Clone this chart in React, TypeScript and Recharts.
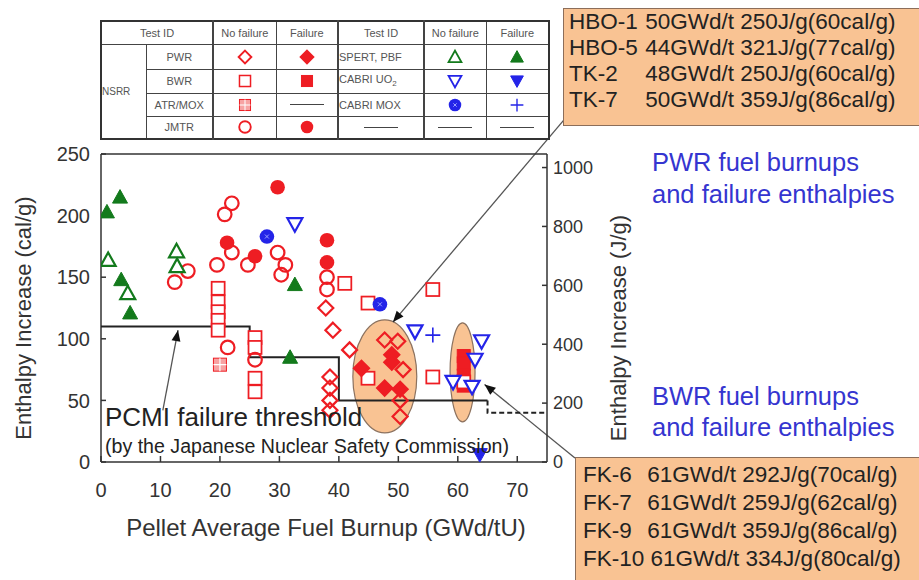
import React from 'react';
import { ScatterChart, Scatter, XAxis, YAxis, ReferenceArea, ReferenceLine } from 'recharts';

const W = 919;
const H = 580;
const PLOT = { left: 101, right: 547, top: 154, bottom: 462 };
const FONT = '"Liberation Sans", Arial, sans-serif';
const RED = '#ee1d23';
const PINK = '#f7a3a3';
const GREEN = '#137a1c';
const BLUE = '#2424e8';
const NOTE_BLUE = '#3535d0';
const INK = '#333';
const PEACH = '#f9c393';

// pellet average burnup (GWd/tU), enthalpy increase (cal/g)
const nsrrPwrNoFail = [[37.8, 125], [39, 107], [41.8, 91], [38.5, 69], [38.5, 60], [38.5, 50], [38.5, 42], [47.7, 99], [49.9, 98], [50.8, 75], [50.3, 50], [50.3, 37]];
const nsrrPwrFail = [[43.8, 76], [48.9, 87], [48.9, 81], [47.7, 60], [50.3, 59]];
const nsrrBwrNoFail = [[19.7, 141], [19.7, 130], [19.7, 122], [19.7, 115], [19.7, 107], [25.9, 101], [25.9, 93], [25.9, 68], [25.9, 57], [41, 145], [44.9, 129], [55.8, 140], [44.9, 68], [55.8, 69]];
const nsrrBwrFail = [[61, 86], [61, 80], [61, 70], [61, 62]];
const nsrrBwrNoFailFk = [[61, 65]];
const nsrrAtrNoFail = [[20, 79]];
const nsrrJmtrNoFail = [[12.4, 146], [14.6, 155], [19.5, 160], [20.8, 201], [22, 210], [22, 170], [24.7, 160], [29.7, 170], [31, 160], [30.3, 152], [21.3, 93], [25.9, 83], [38, 150], [38, 140]];
const nsrrJmtrFail = [[29.7, 223], [21.2, 178], [25.9, 167], [38, 180], [38, 162]];
const spertNoFail = [[1.2, 164], [4.5, 137], [12.7, 171], [12.8, 159]];
const spertFail = [[1, 203], [3.2, 215], [3.4, 148], [4.9, 121], [32.6, 144], [31.8, 85]];
const cabriUo2NoFail = [[32.6, 193], [52.8, 106], [64, 98], [62.9, 83], [59.2, 65], [62.4, 61]];
const cabriUo2Fail = [[63.7, 6]];
const cabriMoxNoFail = [[27.9, 183], [46.9, 128]];
const cabriMoxFail = [[55.8, 103]];

// PCMI failure threshold (cal/g)
const pcmiThreshold = [[0, 110], [25, 110], [25, 85], [40, 85], [40, 50], [65, 50]];
const pcmiThresholdExt = [[65, 50], [65, 40], [75, 40]];

const burnupTicks = [0, 10, 20, 30, 40, 50, 60, 70];
const calTicks = [0, 50, 100, 150, 200, 250];
const jTicks = [0, 200, 400, 600, 800, 1000];
const CAL_TO_J = 4.184;

const hboTkLines = [
  ['HBO-1', '50GWd/t 250J/g(60cal/g)'],
  ['HBO-5', '44GWd/t 321J/g(77cal/g)'],
  ['TK-2', '48GWd/t 250J/g(60cal/g)'],
  ['TK-7', '50GWd/t 359J/g(86cal/g)'],
];
const fkLines = [
  ['FK-6', '61GWd/t 292J/g(70cal/g)'],
  ['FK-7', '61GWd/t 259J/g(62cal/g)'],
  ['FK-9', '61GWd/t 359J/g(86cal/g)'],
  ['FK-10', '61GWd/t 334J/g(80cal/g)'],
];

const pts = (a: number[][]) => a.map(([x, y]) => ({ x, y }));

type Kind = 'dOpen' | 'dFill' | 'sOpen' | 'sFill' | 'atr' | 'cOpen' | 'cFill' | 'tOpen' | 'tFill' | 'vOpen' | 'vFill' | 'mox' | 'plus';

function mark(kind: Kind, cx: number, cy: number, k = 1) {
  const sw = 2.2 * k;
  const d = 7.5 * k, s = 6.5 * k, r = 6.8 * k, t = 7.5 * k;
  switch (kind) {
    case 'dOpen':
    case 'dFill':
      return <polygon points={`${cx},${cy - d} ${cx + d},${cy} ${cx},${cy + d} ${cx - d},${cy}`} fill={kind === 'dFill' ? RED : 'none'} stroke={RED} strokeWidth={sw} />;
    case 'sOpen':
      return <rect x={cx - s} y={cy - s} width={2 * s} height={2 * s} fill="#fff" stroke={RED} strokeWidth={sw * 0.8} />;
    case 'sFill':
      return <rect x={cx - s} y={cy - s} width={2 * s} height={2 * s} fill={RED} stroke={RED} strokeWidth={1} />;
    case 'atr':
      return (
        <g>
          <rect x={cx - s} y={cy - s} width={2 * s} height={2 * s} fill={PINK} stroke={RED} strokeWidth={1} />
          <path d={`M${cx - s} ${cy}H${cx + s}M${cx} ${cy - s}V${cy + s}`} stroke="#fff" strokeWidth={1.2 * k} />
        </g>
      );
    case 'cOpen':
      return <circle cx={cx} cy={cy} r={r} fill="none" stroke={RED} strokeWidth={sw} />;
    case 'cFill':
      return <circle cx={cx} cy={cy} r={r + 0.5} fill={RED} />;
    case 'tOpen':
    case 'tFill':
      return <polygon points={`${cx},${cy - t} ${cx + t},${cy + t * 0.8} ${cx - t},${cy + t * 0.8}`} fill={kind === 'tFill' ? GREEN : '#fff'} stroke={GREEN} strokeWidth={kind === 'tFill' ? 1 : sw} />;
    case 'vOpen':
    case 'vFill':
      return <polygon points={`${cx},${cy + t} ${cx + t},${cy - t * 0.8} ${cx - t},${cy - t * 0.8}`} fill={kind === 'vFill' ? BLUE : '#fff'} stroke={BLUE} strokeWidth={kind === 'vFill' ? 1 : sw} />;
    case 'mox':
      return (
        <g>
          <circle cx={cx} cy={cy} r={r + 0.5} fill={BLUE} />
          <path d={`M${cx - 2 * k} ${cy - 2 * k}L${cx + 2 * k} ${cy + 2 * k}M${cx + 2 * k} ${cy - 2 * k}L${cx - 2 * k} ${cy + 2 * k}`} stroke="#9aa0ff" strokeWidth={1} />
        </g>
      );
    case 'plus':
      return <path d={`M${cx - t} ${cy}H${cx + t}M${cx} ${cy - t}V${cy + t}`} stroke={BLUE} strokeWidth={1.6 * k} />;
  }
  return <g />;
}

const shape = (kind: Kind) => (p: any) => mark(kind, p.cx, p.cy);

const ellipseShape = (p: any) => (
  <ellipse cx={p.x + p.width / 2} cy={p.y + p.height / 2} rx={Math.abs(p.width) / 2} ry={Math.abs(p.height) / 2} fill={PEACH} stroke="#8c725f" strokeWidth={1.2} />
);

const arrowShape = (p: any) => {
  const { x1, y1, x2, y2 } = p;
  const a = Math.atan2(y2 - y1, x2 - x1);
  const L = 11, w = 4.5;
  const bx = x2 - L * Math.cos(a), by = y2 - L * Math.sin(a);
  const poly = `${x2},${y2} ${bx - w * Math.sin(a)},${by + w * Math.cos(a)} ${bx + w * Math.sin(a)},${by - w * Math.cos(a)}`;
  return (
    <g>
      <line x1={x1} y1={y1} x2={x2} y2={y2} stroke="#555" strokeWidth={1.3} />
      <polygon points={poly} fill="#111" />
    </g>
  );
};

const tickStyle = { fontSize: 20, fill: INK, fontFamily: FONT };
const rightTickStyle = { fontSize: 18, fill: INK, fontFamily: FONT };

const AxisTitle = ({ px, py, text }: { px: number; py: number; text: string }) => (
  <text x={px} y={py} transform={`rotate(-90 ${px} ${py})`} textAnchor="middle" dominantBaseline="central" fontSize={22} fill={INK} fontFamily={FONT}>
    {text}
  </text>
);

const XTitle = () => (
  <text x={326} y={527} textAnchor="middle" dominantBaseline="central" fontSize={24} fill={INK} fontFamily={FONT}>
    Pellet Average Fuel Burnup (GWd/tU)
  </text>
);

const Icon = ({ kind }: { kind: Kind }) => (
  <svg width={18} height={18} style={{ display: 'block', margin: '0 auto' }}>
    {mark(kind, 9, 9, 0.85)}
  </svg>
);
const Dash = () => <div style={{ width: 34, height: 1, background: '#444', margin: '0 auto' }} />;

const cell: React.CSSProperties = { border: '1px solid #444', padding: 0, textAlign: 'center', color: '#555', fontSize: 11, whiteSpace: 'nowrap', overflow: 'hidden' };
const sep: React.CSSProperties = { borderLeft: '2px solid #444' };

const LegendTable = () => (
  <table style={{ position: 'absolute', left: 100, top: 20, width: 448, height: 118, borderCollapse: 'collapse', border: '2px solid #333', fontFamily: FONT, tableLayout: 'fixed' }}>
    <colgroup>
      <col style={{ width: 45 }} />
      <col style={{ width: 67 }} />
      <col style={{ width: 63 }} />
      <col style={{ width: 62 }} />
      <col style={{ width: 86 }} />
      <col style={{ width: 62 }} />
      <col style={{ width: 63 }} />
    </colgroup>
    <tbody>
      <tr style={{ height: 23 }}>
        <td colSpan={2} style={cell}>Test ID</td>
        <td style={{ ...cell, ...sep }}>No failure</td>
        <td style={cell}>Failure</td>
        <td style={{ ...cell, ...sep }}>Test ID</td>
        <td style={{ ...cell, ...sep }}>No failure</td>
        <td style={cell}>Failure</td>
      </tr>
      <tr style={{ height: 25 }}>
        <td rowSpan={4} style={{ ...cell, textAlign: 'left', fontSize: 10 }}>NSRR</td>
        <td style={cell}>PWR</td>
        <td style={{ ...cell, ...sep }}><Icon kind="dOpen" /></td>
        <td style={cell}><Icon kind="dFill" /></td>
        <td style={{ ...cell, ...sep, textAlign: 'left' }}>SPERT, PBF</td>
        <td style={{ ...cell, ...sep }}><Icon kind="tOpen" /></td>
        <td style={cell}><Icon kind="tFill" /></td>
      </tr>
      <tr style={{ height: 24 }}>
        <td style={cell}>BWR</td>
        <td style={{ ...cell, ...sep }}><Icon kind="sOpen" /></td>
        <td style={cell}><Icon kind="sFill" /></td>
        <td style={{ ...cell, ...sep, textAlign: 'left' }}>CABRI UO<sub style={{ fontSize: 8 }}>2</sub></td>
        <td style={{ ...cell, ...sep }}><Icon kind="vOpen" /></td>
        <td style={cell}><Icon kind="vFill" /></td>
      </tr>
      <tr style={{ height: 23 }}>
        <td style={cell}>ATR/MOX</td>
        <td style={{ ...cell, ...sep }}><Icon kind="atr" /></td>
        <td style={cell}><Dash /></td>
        <td style={{ ...cell, ...sep, textAlign: 'left' }}>CABRI MOX</td>
        <td style={{ ...cell, ...sep }}><Icon kind="mox" /></td>
        <td style={cell}><Icon kind="plus" /></td>
      </tr>
      <tr style={{ height: 23 }}>
        <td style={cell}>JMTR</td>
        <td style={{ ...cell, ...sep }}><Icon kind="cOpen" /></td>
        <td style={cell}><Icon kind="cFill" /></td>
        <td style={{ ...cell, ...sep }}><Dash /></td>
        <td style={{ ...cell, ...sep }}><Dash /></td>
        <td style={cell}><Dash /></td>
      </tr>
    </tbody>
  </table>
);

const Callout = ({ left, top, lines, lineH, idW, padTop, padLeft, size }: { left: number; top: number; lines: string[][]; lineH: number; idW: number; padTop: number; padLeft: number; size: number }) => (
  <div style={{ position: 'absolute', left, top, width: 400, height: lines.length * lineH + padTop + 14, background: PEACH, border: '1.5px solid #8c6e5a', boxSizing: 'border-box', padding: `${padTop}px 0 0 ${padLeft}px`, fontFamily: FONT, fontSize: size, color: '#222', lineHeight: `${lineH}px`, whiteSpace: 'nowrap' }}>
    {lines.map(([id, rest]) => (
      <div key={id}>
        <span style={{ display: 'inline-block', minWidth: idW }}>{id}</span> {rest}
      </div>
    ))}
  </div>
);

const Note = ({ left, top, size, color, children }: { left: number; top: number; size: number; color: string; children: React.ReactNode }) => (
  <div style={{ position: 'absolute', left, top, fontFamily: FONT, fontSize: size, color, lineHeight: 1, whiteSpace: 'nowrap' }}>{children}</div>
);

export default function App() {
  return (
    <div style={{ position: 'absolute', left: 0, top: 0, width: W, height: H, overflow: 'hidden', background: '#fff' }}>
      <ScatterChart
        width={W}
        height={H}
        margin={{ top: PLOT.top - 10, right: W - PLOT.right - 60, bottom: H - PLOT.bottom - 40, left: PLOT.left - 60 }}
      >
        <XAxis xAxisId="b" type="number" dataKey="x" domain={[0, 75]} ticks={burnupTicks} allowDataOverflow height={40}
          stroke={INK} strokeWidth={1.5} tickSize={-6} tickMargin={27} tick={tickStyle} label={<XTitle />} />
        <XAxis xAxisId="t" orientation="top" type="number" dataKey="x" domain={[0, 75]} ticks={burnupTicks.slice(1)} allowDataOverflow height={10}
          stroke={INK} strokeWidth={1.5} tickSize={-6} tick={false} />
        <YAxis yAxisId="l" type="number" dataKey="y" domain={[0, 250]} ticks={calTicks} allowDataOverflow width={60}
          stroke={INK} strokeWidth={1.5} tickSize={-5} tickMargin={16} tick={tickStyle}
          label={<AxisTitle px={23} py={318} text="Enthalpy Increase (cal/g)" />} />
        <YAxis yAxisId="r" orientation="right" type="number" domain={[0, 250 * CAL_TO_J]} ticks={jTicks} allowDataOverflow width={60}
          stroke={INK} strokeWidth={1.5} tickSize={-5} tickMargin={11} tick={rightTickStyle}
          label={<AxisTitle px={618} py={328} text="Enthalpy Increase (J/g)" />} />

        <ReferenceArea xAxisId="b" yAxisId="l" x1={42.35} x2={53.1} y1={23.6} y2={115.4} shape={ellipseShape} ifOverflow="visible" />
        <ReferenceArea xAxisId="b" yAxisId="l" x1={58.7} x2={62.9} y1={32.5} y2={113} shape={ellipseShape} ifOverflow="visible" />

        <Scatter xAxisId="b" yAxisId="l" data={pts(pcmiThreshold)} line={{ stroke: '#222', strokeWidth: 2 }} lineType="joint" shape={() => <g />} isAnimationActive={false} />
        <Scatter xAxisId="b" yAxisId="l" data={pts(pcmiThresholdExt)} line={{ stroke: '#222', strokeWidth: 2, strokeDasharray: '5 3' }} lineType="joint" shape={() => <g />} isAnimationActive={false} />

        <Scatter xAxisId="b" yAxisId="l" data={pts(nsrrBwrFail)} shape={shape('sFill')} isAnimationActive={false} />
        <Scatter xAxisId="b" yAxisId="l" data={pts(nsrrBwrNoFail)} shape={shape('sOpen')} isAnimationActive={false} />
        <Scatter xAxisId="b" yAxisId="l" data={pts(nsrrBwrNoFailFk)} shape={shape('sOpen')} isAnimationActive={false} />
        <Scatter xAxisId="b" yAxisId="l" data={pts(nsrrAtrNoFail)} shape={shape('atr')} isAnimationActive={false} />
        <Scatter xAxisId="b" yAxisId="l" data={pts(nsrrJmtrNoFail)} shape={shape('cOpen')} isAnimationActive={false} />
        <Scatter xAxisId="b" yAxisId="l" data={pts(nsrrJmtrFail)} shape={shape('cFill')} isAnimationActive={false} />
        <Scatter xAxisId="b" yAxisId="l" data={pts(nsrrPwrNoFail)} shape={shape('dOpen')} isAnimationActive={false} />
        <Scatter xAxisId="b" yAxisId="l" data={pts(nsrrPwrFail)} shape={shape('dFill')} isAnimationActive={false} />
        <Scatter xAxisId="b" yAxisId="l" data={pts(spertNoFail)} shape={shape('tOpen')} isAnimationActive={false} />
        <Scatter xAxisId="b" yAxisId="l" data={pts(spertFail)} shape={shape('tFill')} isAnimationActive={false} />
        <Scatter xAxisId="b" yAxisId="l" data={pts(cabriUo2NoFail)} shape={shape('vOpen')} isAnimationActive={false} />
        <Scatter xAxisId="b" yAxisId="l" data={pts(cabriUo2Fail)} shape={shape('vFill')} isAnimationActive={false} />
        <Scatter xAxisId="b" yAxisId="l" data={pts(cabriMoxNoFail)} shape={shape('mox')} isAnimationActive={false} />
        <Scatter xAxisId="b" yAxisId="l" data={pts(cabriMoxFail)} shape={shape('plus')} isAnimationActive={false} />

        <ReferenceLine xAxisId="b" yAxisId="l" segment={[{ x: 10.4, y: 42 }, { x: 12.95, y: 107 }]} shape={arrowShape} ifOverflow="visible" />
        <ReferenceLine xAxisId="b" yAxisId="l" segment={[{ x: 78.6, y: 282 }, { x: 49.1, y: 113.6 }]} shape={arrowShape} ifOverflow="visible" />
        <ReferenceLine xAxisId="b" yAxisId="l" segment={[{ x: 79.7, y: 3.2 }, { x: 64.5, y: 63 }]} shape={arrowShape} ifOverflow="visible" />
      </ScatterChart>

      <LegendTable />
      <Callout left={563} top={8} lines={hboTkLines} lineH={26} idW={70} padTop={0} padLeft={5} size={22.5} />
      <Callout left={575} top={457} lines={fkLines} lineH={28} idW={58} padTop={3} padLeft={7} size={22.5} />

      <Note left={652} top={150} size={25.5} color={NOTE_BLUE}>PWR fuel burnups</Note>
      <Note left={652} top={182} size={25.5} color={NOTE_BLUE}>and failure enthalpies</Note>
      <Note left={652} top={384} size={25.5} color={NOTE_BLUE}>BWR fuel burnups</Note>
      <Note left={652} top={415} size={25.5} color={NOTE_BLUE}>and failure enthalpies</Note>
      <Note left={105} top={404} size={26} color="#222">PCMI failure threshold</Note>
      <Note left={105} top={437} size={19.6} color="#222">(by the Japanese Nuclear Safety Commission)</Note>
    </div>
  );
}
